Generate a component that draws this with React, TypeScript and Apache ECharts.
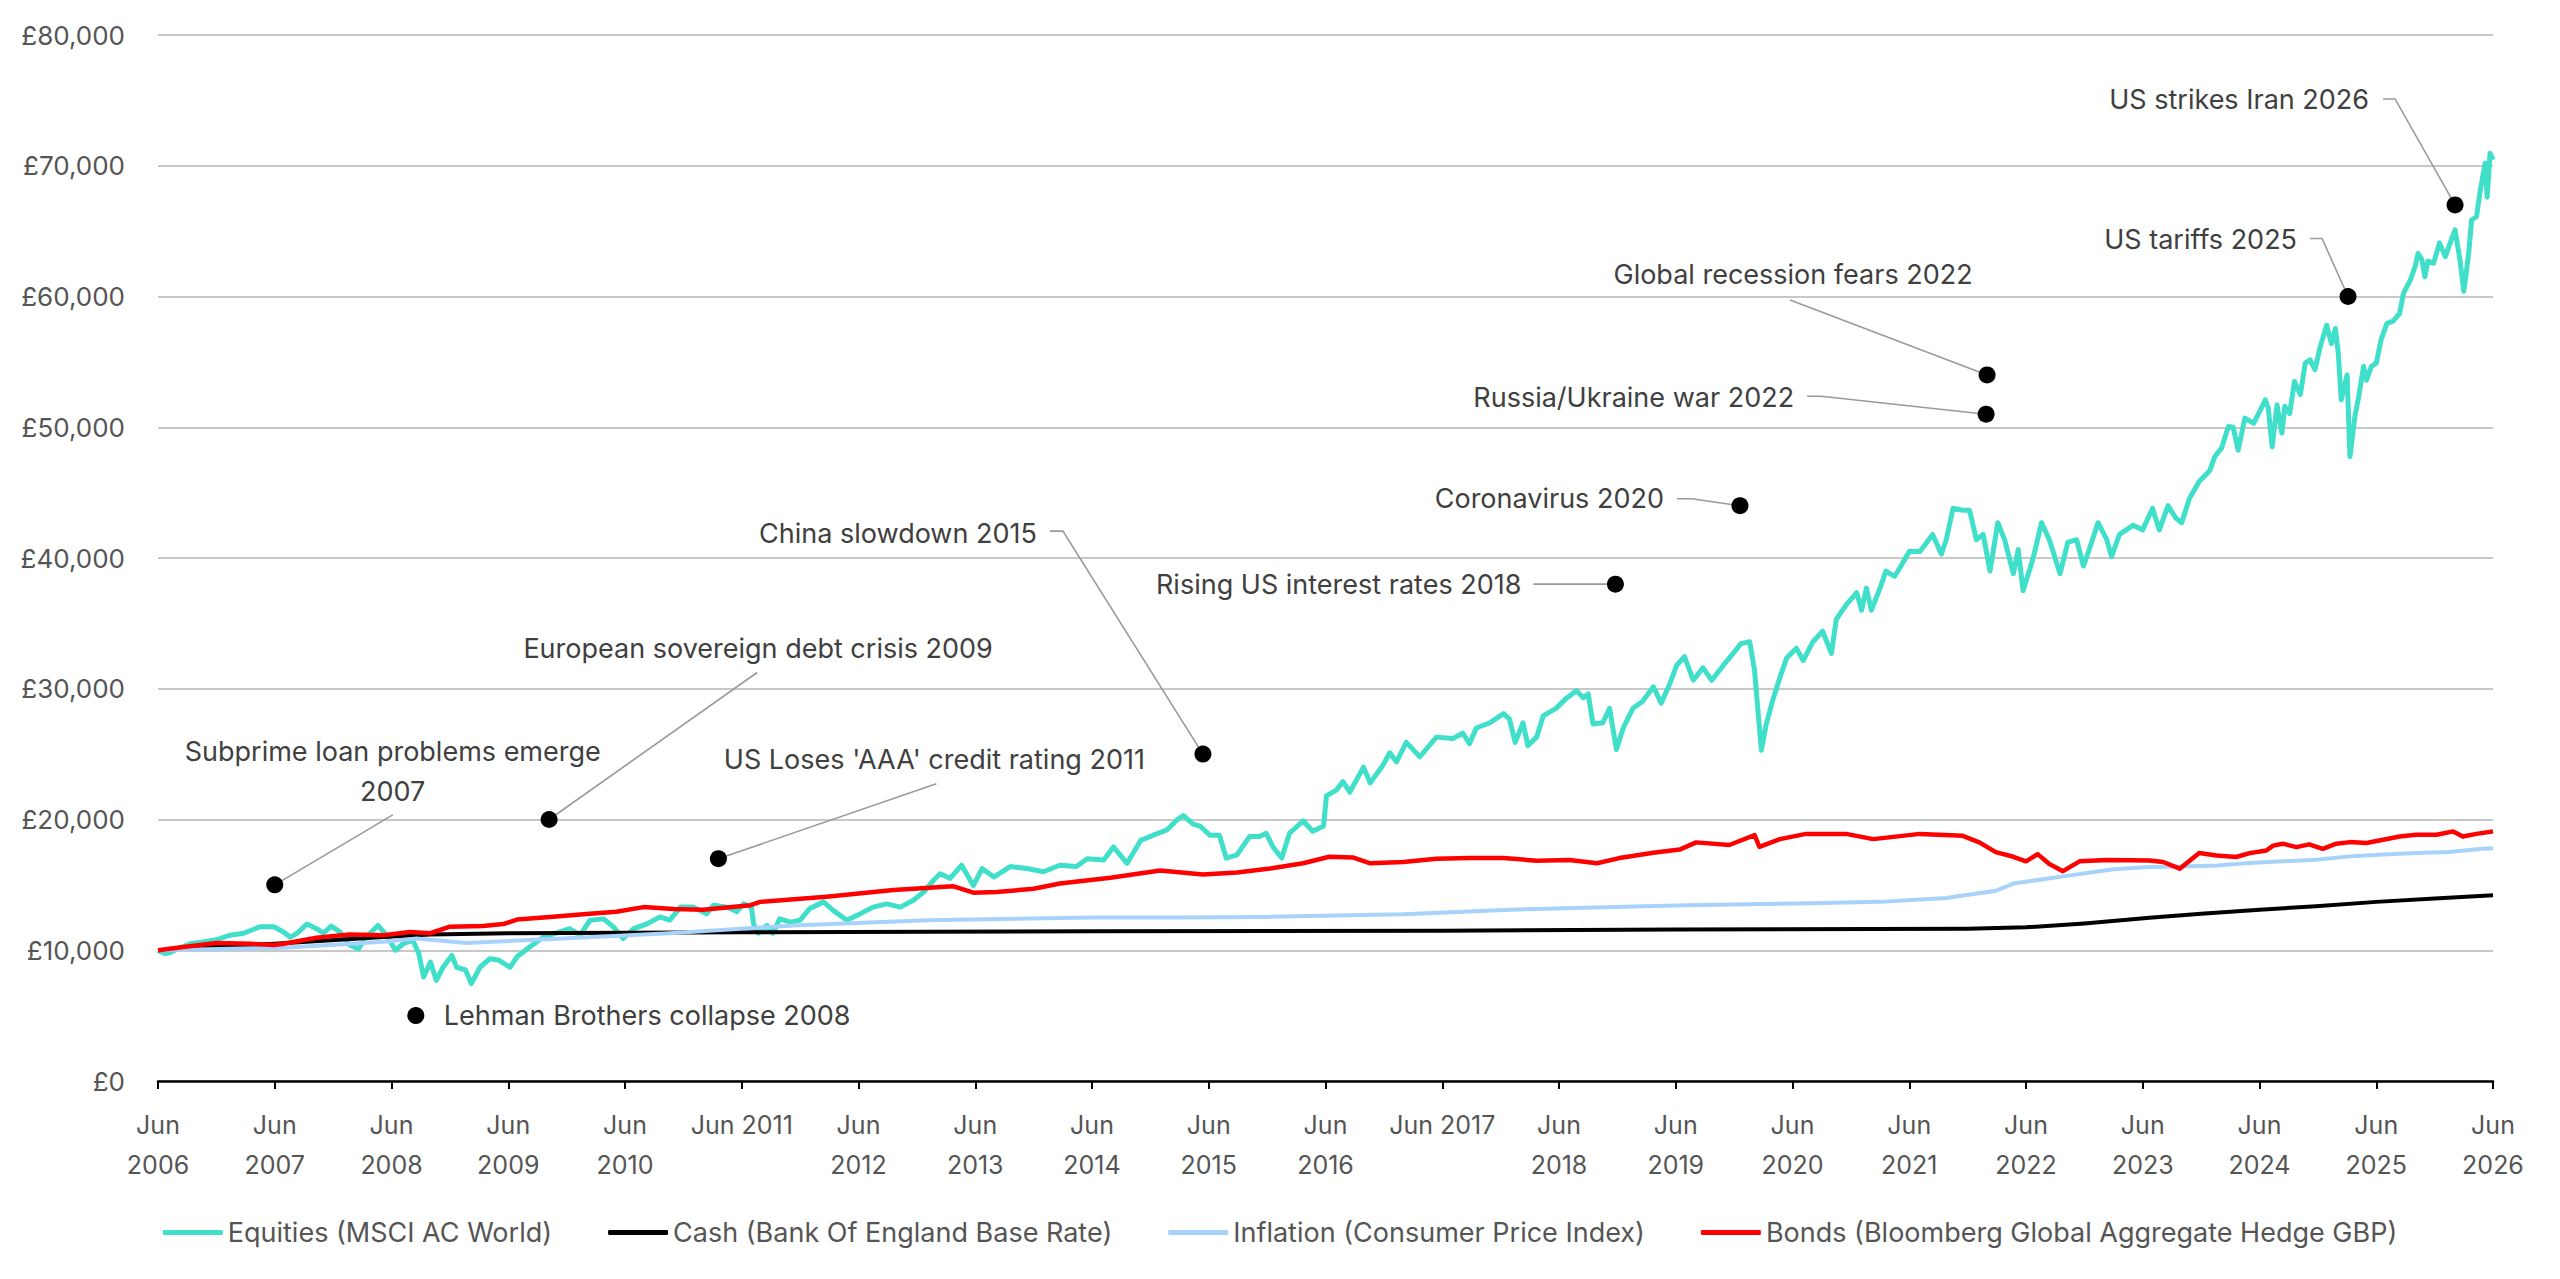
import { useEffect, useRef } from "react";
import * as echarts from "echarts";

const FONT = "Inter, 'Noto Sans', sans-serif";
const AXIS_TEXT = "#555555";
const NOTE_TEXT = "#404040";
const GRID_LINE = "#c8c8c8";
const LEADER = "#9a9a9a";

const C_EQUITIES = "#40DFCA";
const C_CASH = "#000000";
const C_INFLATION = "#A7D3FA";
const C_BONDS = "#FF0000";

// x axis = months since Jun 2006, one tick per year
const X_TICK_LABELS = [
  "Jun\n2006", "Jun\n2007", "Jun\n2008", "Jun\n2009", "Jun\n2010", "Jun 2011",
  "Jun\n2012", "Jun\n2013", "Jun\n2014", "Jun\n2015", "Jun\n2016", "Jun 2017",
  "Jun\n2018", "Jun\n2019", "Jun\n2020", "Jun\n2021", "Jun\n2022", "Jun\n2023",
  "Jun\n2024", "Jun\n2025", "Jun\n2026",
];

const SERIES_NAMES = [
  "Equities (MSCI AC World)",
  "Cash (Bank Of England Base Rate)",
  "Inflation (Consumer Price Index)",
  "Bonds (Bloomberg Global Aggregate Hedge GBP)",
];

// [month, £]
const EQUITIES: [number, number][] = [
  [0, 10000], [0.7, 9750], [1.2, 9800], [2, 10100], [3.3, 10500], [4.3, 10600], [6, 10800],
  [7.4, 11150], [8.8, 11300], [10.5, 11800], [11.9, 11800], [12.9, 11400], [13.6, 11000],
  [14.3, 11300], [15.3, 12000], [16.3, 11650], [17, 11300], [17.8, 11850], [18.7, 11400],
  [19.7, 10400], [20.6, 10100], [21.4, 11000], [22.6, 11900], [23.5, 11150], [24.4, 10000],
  [25.2, 10500], [26.2, 10750], [26.8, 9750], [27.3, 7950], [28, 9100], [28.6, 7700],
  [29.3, 8700], [30.2, 9600], [30.7, 8700], [31.6, 8500], [32.2, 7450], [33.1, 8700],
  [34.1, 9350], [35, 9250], [36.2, 8700], [36.9, 9500], [38.2, 10250], [39.6, 11000],
  [41.3, 11400], [42.3, 11650], [43.4, 11150], [44.4, 12300], [45.8, 12400], [46.8, 11800],
  [47.8, 10900], [48.9, 11650], [50.2, 12000], [51.6, 12550], [52.6, 12300], [53.7, 13300],
  [55, 13300], [56.4, 12800], [57.1, 13450], [58.5, 13300], [59.5, 12950], [60.2, 13550],
  [61, 13300], [61.2, 12050], [61.7, 11300], [62.6, 11900], [63.2, 11300], [63.9, 12400],
  [65, 12150], [66, 12300], [67, 13200], [68.4, 13700], [69.4, 13050], [70.8, 12300],
  [72.2, 12800], [73.5, 13300], [74.9, 13550], [76.3, 13300], [77.6, 13800], [78.7, 14450],
  [79.7, 15350], [80.4, 15850], [81.4, 15500], [82.6, 16500], [83.8, 14950], [84.7, 16250],
  [85.9, 15600], [87.6, 16400], [89.3, 16250], [91, 16000], [92.7, 16500], [94.4, 16400],
  [95.5, 17000], [97.2, 16900], [98.2, 17900], [99.6, 16650], [101, 18400], [102.3, 18800],
  [103.7, 19200], [104.7, 19950], [105.4, 20300], [106.4, 19650], [107.1, 19500],
  [108.1, 18800], [109.1, 18800], [109.8, 17050], [110.9, 17300], [112.2, 18700],
  [113.2, 18700], [113.9, 18950], [114.6, 17900], [115.5, 17050], [116.3, 18950],
  [117.7, 19900], [118.7, 19100], [119.8, 19500], [120.1, 21800], [121.1, 22250],
  [121.8, 22900], [122.5, 22100], [123.9, 24000], [124.6, 22800], [125.9, 24150],
  [126.6, 25100], [127.3, 24400], [128.3, 25900], [129.7, 24800], [131.4, 26300],
  [133.1, 26200], [134.1, 26600], [134.8, 25800], [135.5, 27000], [136.9, 27400],
  [138.3, 28100], [138.9, 27700], [139.5, 25900], [140.3, 27400], [140.8, 25650],
  [141.7, 26300], [142.4, 27950], [143.7, 28500], [144.8, 29300], [145.8, 29850],
  [146.5, 29300], [147, 29600], [147.5, 27300], [148.5, 27400], [149.2, 28500],
  [149.9, 25350], [150.6, 27000], [151.6, 28500], [152.6, 29050], [153.7, 30150],
  [154.5, 28900], [155.4, 30400], [156.1, 31800], [156.9, 32450], [157.8, 30650],
  [158.8, 31600], [159.7, 30650], [160.9, 31800], [161.9, 32700], [162.7, 33450],
  [163.6, 33600], [164.1, 31400], [164.8, 25300], [165.3, 27300], [166, 29200],
  [166.7, 30850], [167.4, 32350], [168.4, 33100], [169.1, 32150], [170.1, 33600],
  [171.1, 34400], [172, 32700], [172.5, 35300], [173.5, 36400], [174.6, 37350],
  [175.1, 36000], [175.6, 37700], [176.1, 36000], [177, 37700], [177.6, 39000],
  [178.5, 38600], [179, 39200], [180, 40500], [181.1, 40500], [182.4, 41800],
  [183.3, 40300], [183.8, 41400], [184.5, 43800], [185.5, 43650], [186.2, 43650],
  [186.9, 41400], [187.6, 41800], [188.3, 39000], [189.1, 42700], [189.8, 41400],
  [190.7, 38800], [191.2, 40650], [191.7, 37500], [192.7, 39900], [193.6, 42700],
  [194.4, 41400], [195.5, 38800], [196.3, 41200], [197.2, 41400], [197.9, 39400],
  [198.5, 40650], [199.4, 42700], [200.3, 41400], [200.8, 40100], [201.6, 41800],
  [203, 42500], [204, 42150], [205, 43800], [205.7, 42150], [206.6, 44000], [207.4, 43050],
  [208, 42700], [208.8, 44550], [209.8, 45850], [210.9, 46700], [211.4, 47750],
  [212.1, 48400], [212.8, 50050], [213.3, 50000], [213.8, 48250], [214.5, 50700],
  [215.4, 50300], [215.9, 51050], [216.6, 52100], [216.9, 51450], [217.3, 48500],
  [217.8, 51700], [218.3, 49550], [218.6, 51600], [219.1, 51050], [219.6, 53500],
  [220.2, 52500], [220.7, 54900], [221.2, 55150], [221.7, 54400], [222.2, 56050],
  [222.9, 57800], [223.4, 56400], [223.8, 57550], [224.1, 55650], [224.4, 52100],
  [225, 54000], [225.3, 47750], [225.8, 50800], [226.2, 52350], [226.7, 54650],
  [227, 53600], [227.5, 54650], [228, 54900], [228.5, 56700], [229.1, 57950],
  [229.7, 58100], [230.4, 58700], [230.8, 60250], [231.5, 61250], [232, 62300],
  [232.3, 63300], [232.7, 62800], [233, 61500], [233.3, 62700], [233.9, 62550],
  [234.5, 64100], [235.1, 63050], [235.6, 64100], [236.1, 65100], [236.6, 62800],
  [237, 60400], [237.5, 63300], [237.8, 65850], [238.3, 66100], [238.7, 68150],
  [239.2, 70200], [239.4, 67600], [239.7, 70950], [240, 70450],
];

const CASH: [number, number][] = [
  [0, 10000], [12, 10500], [24, 11050], [28, 11200], [36, 11300], [60, 11380], [96, 11450],
  [132, 11500], [156, 11580], [186, 11650], [192, 11750], [198, 12050], [204.7, 12490],
  [210, 12800], [216, 13100], [221.8, 13360], [228, 13700], [234, 13950], [240, 14200],
];

const INFLATION: [number, number][] = [
  [0, 10000], [12.9, 10200], [23.2, 10650], [26.6, 10900], [31.7, 10550], [40, 10850],
  [52.6, 11300], [65.3, 11900], [79, 12300], [96, 12500], [105, 12500], [114, 12550],
  [128, 12750], [139, 13100], [157, 13450], [170, 13600], [177, 13700], [183.8, 14000],
  [188.9, 14550], [190.7, 15100], [195.8, 15650], [201, 16200], [204.7, 16360],
  [208.1, 16410], [211.6, 16490], [215, 16670], [218.4, 16800], [221.8, 16920],
  [225.3, 17180], [228.7, 17330], [232.1, 17430], [235.5, 17510], [238.9, 17760], [240, 17810],
];

const BONDS: [number, number][] = [
  [0, 10000], [2.6, 10250], [6, 10550], [9.5, 10500], [11.9, 10400], [12.9, 10500],
  [16.3, 10950], [19.7, 11200], [23.2, 11150], [25.9, 11400], [28, 11300], [30, 11800],
  [33.4, 11850], [35.5, 12000], [36.9, 12350], [40.3, 12550], [43.7, 12750], [47.1, 12950],
  [49.9, 13300], [53, 13150], [56, 13100], [60.9, 13450], [61.9, 13700], [68.7, 14100],
  [75.6, 14600], [81.7, 14900], [83.8, 14400], [86.2, 14450], [90, 14700], [92.7, 15100],
  [97.9, 15550], [103, 16100], [107.4, 15800], [110.9, 15950], [114.3, 16250],
  [117.7, 16650], [120.4, 17150], [122.8, 17100], [124.6, 16650], [128, 16750],
  [131.4, 17000], [134.8, 17050], [138.3, 17050], [141.7, 16850], [145.1, 16900],
  [147.9, 16650], [150.2, 17050], [153.7, 17450], [156.4, 17700], [158.1, 18250],
  [161.5, 18050], [164.1, 18800], [164.6, 17900], [166.7, 18500], [169.4, 18900],
  [173.5, 18900], [176.3, 18500], [181.1, 18900], [185.5, 18750], [187.2, 18250],
  [188.9, 17500], [190.7, 17150], [192, 16800], [193.2, 17350], [194.4, 16600],
  [195.8, 16050], [197.5, 16800], [200.3, 16900], [204.7, 16870], [206.1, 16750],
  [207.8, 16240], [209.8, 17430], [211.6, 17250], [213.6, 17130], [215, 17430],
  [216.7, 17630], [217.4, 18000], [218.4, 18150], [219.8, 17890], [221.1, 18100],
  [222.5, 17760], [223.9, 18150], [225.3, 18270], [227, 18200], [228.7, 18450],
  [230.4, 18700], [232.1, 18830], [234.2, 18830], [235.9, 19090], [236.9, 18700],
  [238.3, 18900], [240, 19090],
];

// market events
const EVENT_NAMES = [
  "Subprime loan problems emerge\n2007",
  "Lehman Brothers collapse 2008",
  "European sovereign debt crisis 2009",
  "US Loses 'AAA' credit rating 2011",
  "China slowdown 2015",
  "Rising US interest rates 2018",
  "Coronavirus 2020",
  "Russia/Ukraine war 2022",
  "Global recession fears 2022",
  "US tariffs 2025",
  "US strikes Iran 2026",
];
const EVENT_MONTHS = [12, 26.5, 40.2, 57.6, 107.4, 149.8, 162.6, 187.9, 188, 225.1, 236.1];
const EVENT_VALUES = [15000, 5000, 20000, 17000, 25000, 38000, 44000, 51000, 54000, 60000, 67000];

// label placement relative to the dot: [align, dx, dy] (px)
const EVENT_LABEL_POS: [string, number, number][] = [
  ["center", 118, -113],
  ["left", 28, 0],
  ["center", 209, -171],
  ["center", 216, -99],
  ["right", -166, -221],
  ["right", -94, 0],
  ["right", -76, -7],
  ["right", -192, -17],
  ["center", -194, -100],
  ["right", -51, -57],
  ["right", -86, -105],
];

// leader line points relative to the dot (px)
const EVENT_LEADERS: [number, number][][] = [
  [[118, -70], [0, 0]],
  [],
  [[208, -147], [0, 0]],
  [[218, -75], [0, 0]],
  [[-153, -223], [-140, -223], [0, 0]],
  [[-82, 0], [0, 0]],
  [[-63, -7], [-48, -7], [0, 0]],
  [[-179, -18], [-165, -18], [0, 0]],
  [[-197, -75], [0, 0]],
  [[-38, -58], [-26, -58], [0, 0]],
  [[-72, -106], [-60, -106], [0, 0]],
];

function lineSeries(name: string, data: [number, number][], color: string, width: number) {
  return {
    name,
    type: "line",
    data,
    showSymbol: false,
    symbol: "none",
    color,
    itemStyle: { color },
    lineStyle: { color, width, join: "round" },
    emphasis: { disabled: true },
  };
}

function buildOption() {
  const events = EVENT_NAMES.map((name, i) => {
    const [align, dx, dy] = EVENT_LABEL_POS[i];
    return {
      name,
      value: [EVENT_MONTHS[i], EVENT_VALUES[i]],
      label: {
        show: true,
        position: "inside",
        formatter: "{b}",
        align,
        verticalAlign: "middle",
        offset: [dx, dy],
        color: NOTE_TEXT,
        fontSize: 27,
        lineHeight: 40,
        fontFamily: FONT,
      },
    };
  });

  return {
    animation: false,
    backgroundColor: "#ffffff",
    textStyle: { fontFamily: FONT },
    grid: { left: 158, right: 67, top: 35, bottom: 198 },
    legend: {
      data: SERIES_NAMES,
      top: 1214,
      left: "center",
      icon: "roundRect",
      itemWidth: 60,
      itemHeight: 5,
      itemGap: 56,
      textStyle: { color: AXIS_TEXT, fontSize: 27, fontFamily: FONT },
    },
    xAxis: {
      type: "value",
      min: 0,
      max: 240,
      interval: 12,
      axisLine: { show: true, lineStyle: { color: "#000", width: 2.5 } },
      axisTick: { show: true, length: 8, lineStyle: { color: "#000", width: 2 } },
      splitLine: { show: false },
      axisLabel: {
        color: AXIS_TEXT,
        fontSize: 25,
        lineHeight: 40,
        margin: 24,
        fontFamily: FONT,
        showMinLabel: true,
        showMaxLabel: true,
        formatter: (v: number) => X_TICK_LABELS[Math.round(v / 12)] ?? "",
      },
    },
    yAxis: {
      type: "value",
      min: 0,
      max: 80000,
      interval: 10000,
      axisLine: { show: false },
      axisTick: { show: false },
      splitLine: { lineStyle: { color: GRID_LINE, width: 2 } },
      axisLabel: {
        color: AXIS_TEXT,
        fontSize: 26,
        margin: 33,
        fontFamily: FONT,
        formatter: (v: number) => "£" + v.toLocaleString("en-GB"),
      },
    },
    series: [
      lineSeries(SERIES_NAMES[0], EQUITIES, C_EQUITIES, 5),
      lineSeries(SERIES_NAMES[1], CASH, C_CASH, 4),
      lineSeries(SERIES_NAMES[2], INFLATION, C_INFLATION, 4),
      lineSeries(SERIES_NAMES[3], BONDS, C_BONDS, 4.5),
      {
        type: "custom",
        silent: true,
        z: 4,
        encode: { x: 0, y: 1 },
        data: EVENT_MONTHS.map((m, i) => [m, EVENT_VALUES[i]]),
        renderItem: (params: any, api: any) => {
          const pts = EVENT_LEADERS[params.dataIndex];
          if (!pts || pts.length < 2) return { type: "group", children: [] };
          const p = api.coord([api.value(0), api.value(1)]);
          return {
            type: "polyline",
            shape: { points: pts.map(([dx, dy]) => [p[0] + dx, p[1] + dy]) },
            style: { stroke: LEADER, lineWidth: 1.6, fill: null },
          };
        },
      },
      {
        type: "scatter",
        silent: true,
        z: 5,
        symbol: "circle",
        symbolSize: 17,
        itemStyle: { color: "#000", opacity: 1 },
        data: events,
      },
    ],
  };
}

export default function App() {
  const ref = useRef<HTMLDivElement>(null);

  useEffect(() => {
    if (!ref.current) return;
    const chart = echarts.init(ref.current, undefined, { renderer: "svg" });
    chart.setOption(buildOption() as any);
    return () => {
      chart.dispose();
    };
  }, []);

  return (
    <div
      ref={ref}
      style={{ position: "absolute", left: 0, top: 0, width: 2560, height: 1279, background: "#fff" }}
    />
  );
}
